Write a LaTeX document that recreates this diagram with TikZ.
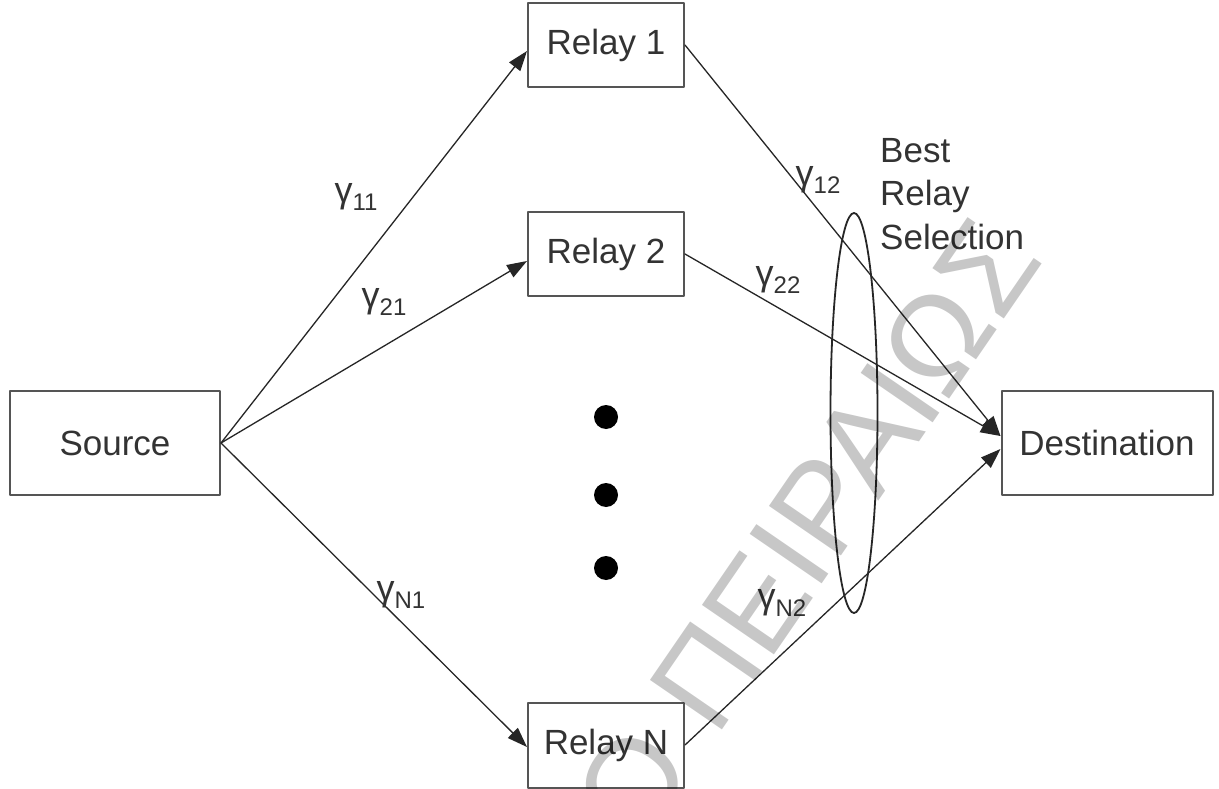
\documentclass[tikz,border=0pt]{standalone}
\usepackage{fontspec}
\setmainfont{Liberation Sans}
\usetikzlibrary{arrows.meta,shapes.geometric}
\definecolor{relInk}{HTML}{333333}
\definecolor{relEdge}{HTML}{555555}
\newcommand{\chgain}[1]{γ\raisebox{-8pt}{\fontsize{24}{24}\selectfont #1}}

\begin{document}
\begin{tikzpicture}[x=1pt,y=-1pt,>={Triangle[length=20pt,width=14pt]},line cap=round,line join=round]
\path[fill=white,use as bounding box] (0,0) rectangle (1219,789);
\tikzset{block/.style={draw=relEdge,fill=white,line width=2pt,text=relInk,font=\fontsize{35}{40}\selectfont},link/.style={draw=black!85,line width=1.3pt},gain/.style={text=relInk,font=\fontsize{36}{36}\selectfont,inner sep=0pt}}
% terminals and relays
\node[block,minimum width=210pt,minimum height=104pt] (src) at (115,443) {Source};
\node[block,minimum width=156pt,minimum height=84pt] (r1) at (606,45) {Relay 1};
\node[block,minimum width=156pt,minimum height=84pt] (r2) at (606,254) {Relay 2};
\node[block,minimum width=156pt,minimum height=85pt] (rN) at (606,745) {Relay N};
\node[block,minimum width=211pt,minimum height=104pt] (dst) at (1107,443) {Destination};
\foreach \y/\n in {417/1,495/2,568/3}
  \node[circle,fill=black,minimum size=24pt,inner sep=0pt] (dot\n) at (606,\y) {};
% first and second hop
\draw[link,->] (src.east) -- ([yshift=-6pt]r1.west);
\draw[link,->] (src.east) -- ([yshift=-7pt]r2.west);
\draw[link,->] (src.east) -- ([yshift=-2pt]rN.west);
\draw[link,->] (r1.east) -- ([yshift=7pt]dst.west);
\draw[link,->] (r2.east) -- ([yshift=7pt]dst.west);
\draw[link,->] (rN.east) -- ([yshift=-6pt]dst.west);
\node[gain] (g11) at (356,197) {\chgain{11}};
\node[gain] (g21) at (384,302) {\chgain{21}};
\node[gain] (gN1) at (401,595) {\chgain{N1}};
\node[gain] (g12) at (818,180) {\chgain{12}};
\node[gain] (g22) at (778,280) {\chgain{22}};
\node[gain] (gN2) at (782,603) {\chgain{N2}};
% selection ring
\node[ellipse,draw=black!85,line width=1.8pt,minimum width=47pt,minimum height=400pt,inner sep=0pt] (sel) at (854,413) {};
\node[anchor=north west,align=left,inner sep=0pt,text=relInk,font=\fontsize{35}{43.5}\selectfont] (best) at (880,138) {Best\\Relay\\Selection};
% university watermark laid over the page
\begin{scope}
\clip (0,0) rectangle (1219,789);
\node[anchor=base east,rotate=55.5,text=black,text opacity=0.22,font=\fontsize{127}{127}\selectfont,inner sep=0pt] (mark) at (1045,260) {ΠΑΝΕΠΙΣΤΗΜΙΟ ΠΕΙΡΑΙΩΣ};
\end{scope}
\end{tikzpicture}
\end{document}
